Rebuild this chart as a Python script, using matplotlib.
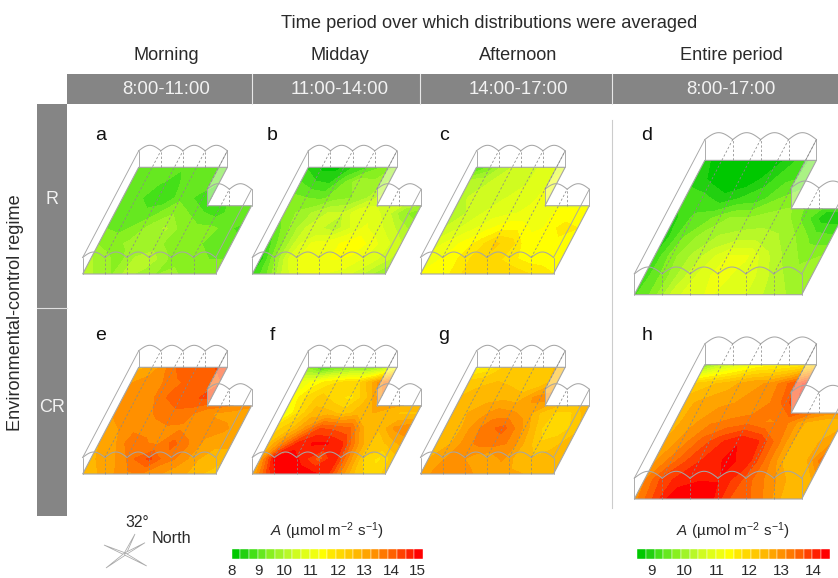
import matplotlib
matplotlib.use("Agg")
import matplotlib.pyplot as plt
import numpy as np
from matplotlib.colors import ListedColormap
from matplotlib.patches import Polygon, Rectangle

plt.rcParams["font.family"] = ["Liberation Sans", "DejaVu Sans"]
plt.rcParams["mathtext.fontset"] = "custom"
plt.rcParams["mathtext.rm"] = "Liberation Sans"
plt.rcParams["mathtext.it"] = "Liberation Sans:italic"

# cell colours of the A scale, low to high
SCALE_COLORS = [
    "#00c800", "#22d010", "#44e018", "#66e820", "#88f020", "#a0f428", "#b8f828", "#d0fc20",
    "#e0ff18", "#f0ff10", "#ffff00", "#ffe800", "#ffd800", "#ffc800", "#ffb800", "#ffa400",
    "#ff9000", "#ff7800", "#ff6000", "#ff4000", "#ff2000", "#ff0000",
]
SMALL_LEVELS = np.linspace(8.0, 15.2, 23)
LARGE_LEVELS = np.linspace(8.54, 14.5, 23)
SMALL_TICKS = [8, 9, 10, 11, 12, 13, 14, 15]
LARGE_TICKS = [9, 10, 11, 12, 13, 14]

COLUMN_NAMES = ["Morning", "Midday", "Afternoon", "Entire period"]
COLUMN_TIMES = ["8:00-11:00", "11:00-14:00", "14:00-17:00", "8:00-17:00"]
ROW_NAMES = ["R", "CR"]

# A over the floor, each list is one row from the back wall to the front wall
FIELD_A = [
    [9.0, 9.0, 9.0, 9.0, 9.0, 9.0, 9.1, 9.2, 9.2, 9.2],
    [9.0, 9.0, 9.0, 8.9, 9.1, 9.2, 9.0, 9.2, 9.2, 9.2],
    [9.1, 9.1, 8.7, 8.7, 9.2, 8.9, 8.6, 8.9, 9.2, 9.2],
    [9.2, 9.2, 9.1, 9.3, 9.6, 9.3, 9.0, 8.8, 9.2, 9.3],
    [9.3, 9.2, 9.4, 9.8, 10.0, 9.5, 9.4, 9.4, 9.2, 8.8],
    [9.6, 9.5, 9.7, 9.7, 9.7, 9.5, 9.4, 9.3, 9.2, 9.3],
    [10.0, 9.7, 9.5, 10.0, 10.2, 9.7, 9.4, 9.5, 9.3, 9.3],
    [10.1, 9.9, 9.6, 10.1, 9.8, 9.6, 9.8, 9.4, 9.4, 9.4],
]
FIELD_B = [
    [8.6, 8.2, 8.2, 8.6, 8.9, 9.3, 9.7, 9.9, 9.9, 9.9],
    [9.0, 8.7, 8.6, 9.3, 9.9, 9.7, 10.0, 10.2, 10.2, 10.2],
    [9.4, 9.3, 9.2, 9.5, 9.6, 9.9, 10.4, 10.6, 10.5, 10.4],
    [9.4, 9.7, 10.0, 10.3, 10.3, 10.9, 10.8, 10.4, 9.7, 9.4],
    [9.1, 9.7, 10.3, 10.3, 10.1, 10.6, 11.0, 10.7, 10.3, 9.9],
    [8.8, 9.6, 10.5, 11.0, 11.1, 11.3, 11.5, 11.1, 10.7, 10.3],
    [8.4, 9.6, 10.7, 11.1, 11.2, 11.3, 11.2, 10.9, 10.6, 10.2],
    [8.6, 9.3, 10.3, 10.9, 11.0, 10.9, 10.8, 10.5, 10.0, 9.5],
]
FIELD_C = [
    [8.8, 9.4, 10.2, 10.4, 10.6, 10.7, 10.9, 11.0, 11.0, 11.0],
    [10.2, 10.2, 10.4, 10.5, 10.6, 10.8, 11.1, 11.2, 11.2, 11.2],
    [10.2, 10.4, 10.5, 10.6, 10.7, 10.9, 11.1, 11.2, 11.2, 11.2],
    [10.0, 10.3, 10.6, 10.8, 10.9, 11.0, 11.1, 11.3, 11.3, 11.3],
    [10.3, 10.6, 10.9, 11.2, 11.5, 11.5, 11.2, 11.3, 11.8, 11.6],
    [10.8, 11.1, 11.4, 11.8, 12.3, 12.1, 11.4, 11.3, 11.4, 11.4],
    [11.1, 11.3, 11.6, 12.0, 12.2, 11.9, 11.6, 11.4, 11.4, 11.4],
    [11.3, 11.4, 11.6, 12.0, 12.2, 12.2, 12.2, 12.0, 11.8, 11.6],
]
FIELD_D = [
    [8.9, 8.6, 8.5, 8.5, 8.7, 9.1, 9.5, 9.5, 9.5, 9.5],
    [9.0, 8.7, 8.5, 8.6, 9.0, 9.3, 9.4, 9.6, 9.6, 9.6],
    [9.2, 9.2, 8.9, 9.1, 9.2, 9.6, 9.8, 9.5, 9.4, 9.4],
    [9.0, 9.4, 9.6, 9.9, 9.9, 10.0, 10.0, 9.5, 8.9, 8.9],
    [8.9, 9.6, 10.0, 10.2, 10.3, 10.3, 10.2, 9.9, 9.5, 9.4],
    [9.1, 9.8, 10.2, 10.6, 11.0, 11.0, 10.5, 10.1, 9.8, 9.9],
    [9.2, 9.7, 10.3, 10.8, 11.1, 10.9, 10.7, 10.3, 10.0, 10.0],
    [9.3, 9.7, 10.5, 10.9, 11.0, 10.9, 10.7, 10.4, 10.2, 9.9],
]
FIELD_E = [
    [12.8, 13.0, 13.6, 14.1, 14.2, 14.2, 14.3, 14.4, 14.4, 14.4],
    [13.2, 13.4, 13.5, 13.8, 14.0, 14.2, 14.2, 14.2, 14.2, 14.2],
    [13.3, 13.4, 13.5, 13.9, 14.1, 14.2, 14.3, 14.1, 13.9, 13.8],
    [13.3, 13.4, 13.5, 13.6, 13.8, 13.7, 13.3, 13.2, 13.1, 12.9],
    [13.0, 13.3, 13.5, 13.5, 13.5, 13.5, 13.4, 13.3, 13.3, 13.0],
    [12.9, 13.1, 13.7, 13.6, 13.5, 14.0, 13.6, 13.2, 13.0, 13.0],
    [12.8, 13.1, 13.3, 13.9, 14.3, 13.7, 13.5, 13.0, 12.7, 12.7],
    [12.8, 12.9, 13.2, 13.5, 13.5, 13.3, 13.0, 12.9, 12.6, 12.3],
]
FIELD_F = [
    [9.5, 8.7, 9.2, 9.5, 9.4, 9.8, 11.0, 12.6, 13.0, 13.0],
    [11.0, 11.4, 11.8, 12.0, 12.2, 13.0, 13.9, 13.9, 13.9, 13.9],
    [11.3, 12.0, 12.4, 12.0, 11.8, 12.5, 13.5, 13.5, 13.2, 13.2],
    [11.0, 12.0, 12.7, 12.7, 12.4, 12.7, 12.9, 12.6, 12.5, 12.5],
    [12.1, 12.5, 13.3, 14.2, 14.1, 13.9, 12.8, 12.6, 13.3, 13.5],
    [12.5, 13.5, 14.6, 14.9, 14.9, 14.6, 13.3, 12.4, 12.6, 13.0],
    [13.0, 15.0, 15.2, 14.6, 14.0, 14.8, 13.4, 12.2, 11.8, 12.4],
    [12.8, 14.3, 15.2, 15.2, 15.0, 14.7, 13.4, 12.4, 12.1, 12.3],
]
FIELD_G = [
    [11.4, 11.7, 12.3, 12.4, 12.5, 12.5, 12.8, 13.2, 13.2, 13.2],
    [12.4, 12.5, 12.6, 12.5, 12.3, 12.3, 12.9, 13.2, 13.2, 13.2],
    [12.6, 12.8, 12.8, 12.8, 12.7, 13.3, 13.4, 12.9, 12.7, 12.7],
    [12.7, 12.9, 13.1, 13.4, 13.3, 13.1, 12.5, 12.2, 12.2, 12.7],
    [12.6, 12.8, 13.4, 13.8, 14.0, 13.4, 12.7, 11.9, 12.0, 12.5],
    [12.8, 12.9, 13.4, 13.7, 13.7, 13.5, 12.8, 12.3, 12.5, 12.7],
    [12.9, 13.2, 13.4, 13.0, 12.9, 13.3, 12.7, 12.6, 12.7, 12.8],
    [12.9, 13.4, 13.5, 13.5, 13.0, 12.9, 13.0, 12.9, 12.8, 12.8],
]
FIELD_H = [
    [9.7, 10.4, 10.9, 11.3, 11.4, 11.5, 11.9, 12.4, 12.6, 12.6],
    [12.1, 12.3, 12.5, 12.8, 12.9, 13.4, 14.1, 14.1, 14.1, 14.1],
    [12.5, 12.7, 12.8, 12.9, 12.9, 13.3, 13.9, 13.9, 13.5, 13.5],
    [12.5, 12.8, 13.1, 13.2, 13.3, 13.1, 13.2, 12.6, 12.4, 12.4],
    [12.6, 13.0, 13.5, 13.9, 14.2, 14.0, 13.3, 12.5, 12.5, 12.8],
    [12.8, 13.3, 13.8, 14.1, 14.3, 14.1, 13.3, 12.5, 12.4, 13.3],
    [13.1, 13.8, 14.1, 14.2, 14.2, 13.8, 13.3, 12.9, 12.4, 12.6],
    [13.0, 13.7, 14.4, 14.5, 14.4, 13.7, 13.5, 13.1, 12.5, 12.4],
]

GRAY = "#858585"
LINE = "#a6a6a6"
DASH = "#8a8a8a"
TEXT = "#2a2a2a"
cmap = ListedColormap(SCALE_COLORS)

NOTCH_V = 0.64
NOTCH_U = 4 / 6


def plan(origin, scale, u, v, lift=0.0):
    # floor coordinates to picture coordinates
    x = origin[0] + scale * (np.asarray(u) * 133 + np.asarray(v) * 56)
    y = origin[1] - scale * (np.asarray(v) * 106.7 + lift)
    return x, y


def segment(ax, origin, scale, p, q, color=LINE, ls="-", lw=0.65):
    x0, y0 = plan(origin, scale, p[0], p[1], p[2])
    x1, y1 = plan(origin, scale, q[0], q[1], q[2])
    ax.plot([x0, x1], [y0, y1], color=color, lw=lw, ls=ls, solid_capstyle="round",
            dashes=(3, 2.6) if ls == "--" else (None, None), zorder=4)


def arches(ax, origin, scale, v, first, last, wall, rise):
    for i in range(first, last):
        t = np.linspace(0, 1, 25)
        u = (i + t) / 6
        x, y = plan(origin, scale, u, np.full_like(t, v), wall + rise * np.sin(np.pi * t))
        ax.plot(x, y, color=LINE, lw=0.75, zorder=4)


def draw_house(ax, field, levels, origin, scale):
    values = np.clip(np.flipud(np.array(field)), levels[0] + 1e-3, levels[-1] - 1e-3)
    u, v = np.meshgrid(np.linspace(0, 1, values.shape[1]), np.linspace(0, 1, values.shape[0]))
    x, y = plan(origin, scale, u, v)
    cs = ax.contourf(x, y, values, levels=levels, cmap=cmap, zorder=1)
    cs.set_edgecolor("face")
    cs.set_linewidth(0.25)

    outline = [(0, 0), (1, 0), (1, NOTCH_V), (NOTCH_U, NOTCH_V), (NOTCH_U, 1), (0, 1)]
    pts = [plan(origin, scale, a, b) for a, b in outline]
    floor = Polygon(pts, closed=True, fill=False, edgecolor=LINE, lw=0.8, zorder=3)
    ax.add_patch(floor)
    cs.set_clip_path(floor)

    wall, rise = 16.5, 5.5
    side = [plan(origin, scale, NOTCH_U, NOTCH_V), plan(origin, scale, NOTCH_U, 1),
            plan(origin, scale, NOTCH_U, 1, wall), plan(origin, scale, NOTCH_U, NOTCH_V, wall)]
    ax.add_patch(Polygon(side, closed=True, facecolor="white", edgecolor="none", alpha=0.45, zorder=2))

    # roof ridges, side walls and bay lines
    arches(ax, origin, scale, 0, 0, 6, wall, rise)
    arches(ax, origin, scale, 1, 0, 4, wall, rise)
    arches(ax, origin, scale, NOTCH_V, 4, 6, wall, rise)
    for a, b in [(0, 0), (1, 0), (0, 1), (NOTCH_U, 1), (NOTCH_U, NOTCH_V), (1, NOTCH_V)]:
        segment(ax, origin, scale, (a, b, 0), (a, b, wall))
    segment(ax, origin, scale, (0, 0, wall), (0, 1, wall))
    segment(ax, origin, scale, (1, 0, wall), (1, NOTCH_V, wall))
    segment(ax, origin, scale, (NOTCH_U, NOTCH_V, wall), (NOTCH_U, 1, wall))
    for i in range(1, 6):
        segment(ax, origin, scale, (i / 6, 0, 0), (i / 6, 0, wall), DASH, "--", 0.55)
        far = 1 if i < 5 else NOTCH_V
        segment(ax, origin, scale, (i / 6, 0, wall), (i / 6, far, wall), DASH, "--", 0.55)
        if i < 4:
            segment(ax, origin, scale, (i / 6, far, 0), (i / 6, far, wall), DASH, "--", 0.55)
    segment(ax, origin, scale, (5 / 6, NOTCH_V, 0), (5 / 6, NOTCH_V, wall), DASH, "--", 0.55)


def draw_scale(fig, rect, levels, ticks):
    left, top, width, height = rect
    cax = fig.add_axes([left / 838, 1 - (top + height) / 578, width / 838, height / 578])
    for i, color in enumerate(SCALE_COLORS):
        cax.bar(levels[i], 1, width=levels[i + 1] - levels[i], align="edge", color=color,
                edgecolor="white", linewidth=0.3)
    cax.set_xlim(levels[0], levels[-1])
    cax.set_ylim(0, 1)
    cax.set_yticks([])
    cax.set_xticks(ticks)
    cax.tick_params(axis="x", length=0, pad=3.5, labelsize=11, labelcolor=TEXT)
    for spine in cax.spines.values():
        spine.set_visible(False)


fig = plt.figure(figsize=(8.38, 5.78), dpi=100)
ax = fig.add_axes([0, 0, 1, 1])
ax.set_xlim(0, 838)
ax.set_ylim(578, 0)
ax.axis("off")

small = SMALL_LEVELS
large = LARGE_LEVELS
panels = [
    ("a", FIELD_A, small, (82.7, 274), 1.0, (101, 135)),
    ("b", FIELD_B, small, (252.3, 274), 1.0, (272, 135)),
    ("c", FIELD_C, small, (420.5, 274), 1.0, (444, 135)),
    ("d", FIELD_D, large, (634.3, 294.7), 1.259, (647, 135)),
    ("e", FIELD_E, small, (82.7, 474), 1.0, (101, 335)),
    ("f", FIELD_F, small, (252.3, 474), 1.0, (272, 335)),
    ("g", FIELD_G, small, (420.5, 474), 1.0, (444, 335)),
    ("h", FIELD_H, large, (634.3, 499), 1.259, (647, 335)),
]
for letter, field, levels, origin, scale, pos in panels:
    draw_house(ax, field, levels, origin, scale)
    ax.text(pos[0], pos[1], letter, fontsize=14, color="#111111", ha="center", va="center")

# header bars
ax.add_patch(Rectangle((67, 74), 771, 30, facecolor=GRAY, edgecolor="none"))
ax.add_patch(Rectangle((37, 104), 30, 412, facecolor=GRAY, edgecolor="none"))
for x in [252, 420, 612]:
    ax.plot([x, x], [74, 104], color="#e8e8e8", lw=0.8)
ax.plot([37, 67], [308, 308], color="#e0e0e0", lw=0.8)
ax.plot([612, 612], [120, 508], color="#cccccc", lw=0.8)

ax.text(489, 23, "Time period over which distributions were averaged", fontsize=13.15,
        color=TEXT, ha="center", va="center")
for name, when, x in zip(COLUMN_NAMES, COLUMN_TIMES, [166, 340, 518, 731]):
    ax.text(x, 55.5, name, fontsize=13.1, color=TEXT, ha="center", va="center")
    ax.text(x, 89.5, when, fontsize=13.4, color="#f2f2f2", ha="center", va="center")
for name, y in zip(ROW_NAMES, [200, 407]):
    ax.text(52, y, name, fontsize=13, color="#f2f2f2", ha="center", va="center")
ax.text(16, 313, "Environmental-control regime", fontsize=13.1, color=TEXT, rotation=90,
        ha="center", va="center")

# compass
center = np.array([125.0, 554.0])
for tip in [(135, 534), (145, 542.7), (104, 545), (106, 568), (146.7, 566)]:
    tip = np.array(tip, dtype=float)
    d = tip - center
    n = np.array([-d[1], d[0]]) / np.hypot(*d) * 1.1
    ax.add_patch(Polygon([center + n, tip, center - n], closed=True, facecolor="white",
                         edgecolor="#a8a8a8", lw=0.55))
ax.text(137, 522.5, "32°", fontsize=11.3, color=TEXT, ha="center", va="center")
ax.text(171, 538.5, "North", fontsize=11.6, color=TEXT, ha="center", va="center")

unit = r"$\mathit{A}$ (µmol m$^{-2}$ s$^{-1}$)"
ax.text(327, 531, unit, fontsize=11, color=TEXT, ha="center", va="center")
ax.text(733, 531, unit, fontsize=11, color=TEXT, ha="center", va="center")
draw_scale(fig, (231.5, 549, 191.5, 10), SMALL_LEVELS, SMALL_TICKS)
draw_scale(fig, (637, 549, 193, 10), LARGE_LEVELS, LARGE_TICKS)

fig.savefig("out.png", dpi=100)
plt.close(fig)
